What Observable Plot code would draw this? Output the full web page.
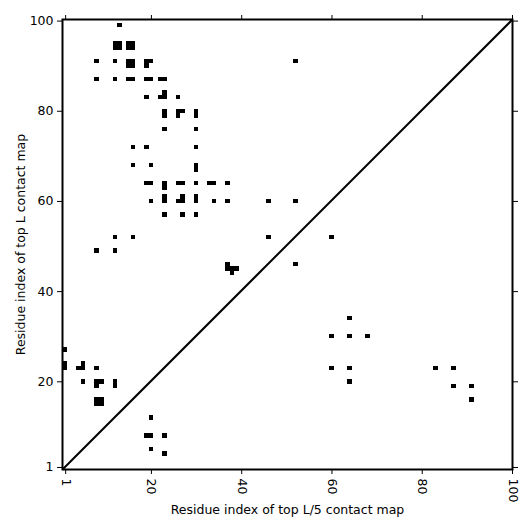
<!DOCTYPE html>
<html><head><meta charset="utf-8">
<script src="https://cdn.jsdelivr.net/npm/d3@7"></script>
<script src="https://cdn.jsdelivr.net/npm/@observablehq/plot@0.6"></script>
<style>body{margin:0;background:#fff;}</style>
</head><body><div id="chart"></div>
<script>
const xDomain = [0.3, 100];
const yDomain = [0.55, 100.35];
const tickValues = [1, 20, 40, 60, 80, 100];
const xLabel = "Residue index of top L/5 contact map";
const yLabel = "Residue index of top L contact map";

// Contacts in the upper-left triangle
const upperX = [13, 12,13,12,13, 15,16,15,16, 8,12, 15,16,15,16, 19,20,19,
  8,12,15,16,19,20,22,23, 19,22,23,23,26, 23,23,26,27,26,30,30, 23,30, 16,19,30,
  16,20,30,30, 19,20,23,23,26,27,30,33,34,37,
  20,23,23,27,26,27,30,30,34,37,46,52, 23,27,30, 12,16,46, 8,12, 52,
  37,37,38,39,38, 1,1,1, 4,5,5,8, 5,8,9,8,12,12, 8,9,8,9];
const upperY = [99, 94,94,95,95, 94,94,95,95, 91,91, 90,90,91,91, 91,91,90,
  87,87,87,87,87,87,87,87, 83,83,83,84,83, 79,80,80,80,79,79,80, 76,76, 72,72,72,
  68,68,67,68, 64,64,63,64,64,64,64,64,64,64,
  60,60,61,61,60,60,60,61,60,60,60,60, 57,57,57, 52,52,52, 49,49, 91,
  46,45,45,45,44, 27,23,24, 23,23,24,23, 20,20,20,19,20,19, 15,15,16,16];

// Contacts in the lower-right triangle
const lowerX = [52, 60, 64, 60,64,68, 60,64,83,87, 64, 87,91, 91, 20, 19,20,23, 20, 23];
const lowerY = [46, 52, 34, 30,30,30, 23,23,23,23, 20, 19,19, 16, 12, 8,8,8, 5, 4];

const cells = [
  ...upperX.map((x, i) => ({x, y: upperY[i]})),
  ...lowerX.map((x, i) => ({x, y: lowerY[i]}))
];

const chart = Plot.plot({
  width: 532,
  height: 532,
  marginLeft: 62,
  marginRight: 20,
  marginTop: 19,
  marginBottom: 63,
  style: {fontFamily: "DejaVu Sans", fontSize: "12.5px", color: "black", background: "white"},
  x: {domain: xDomain},
  y: {domain: yDomain},
  marks: [
    Plot.rect(cells, {
      x1: d => d.x - 0.5, x2: d => d.x + 0.5,
      y1: d => d.y - 0.5, y2: d => d.y + 0.5,
      fill: "black", clip: "frame", shapeRendering: "crispEdges"
    }),
    Plot.link([0], {
      x1: () => xDomain[0], y1: () => yDomain[0], x2: () => xDomain[1], y2: () => yDomain[1],
      stroke: "black", strokeWidth: 2
    }),
    Plot.frame({stroke: "black", strokeWidth: 2}),
    Plot.axisX({anchor: "bottom", ticks: tickValues, tickSize: 5, tickRotate: 90,
      label: xLabel, labelAnchor: "center", labelArrow: "none", labelOffset: 44}),
    Plot.axisX({anchor: "top", ticks: tickValues, tickSize: 5, tickFormat: () => "", label: null}),
    Plot.axisY({anchor: "left", ticks: tickValues, tickSize: 5,
      label: yLabel, labelAnchor: "center", labelArrow: "none", labelOffset: 46}),
    Plot.axisY({anchor: "right", ticks: tickValues, tickSize: 5, tickFormat: () => "", label: null})
  ]
});
document.getElementById("chart").appendChild(chart);
</script>
</body></html>
